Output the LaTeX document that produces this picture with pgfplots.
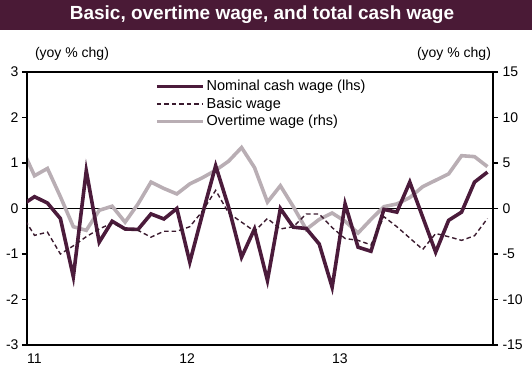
\documentclass[border=0pt]{standalone}
\usepackage{fontspec}
\setmainfont{Liberation Sans}
\usepackage{pgfplots}
\usepackage{pgfplotstable}
\pgfplotsset{compat=1.18}
\definecolor{nomc}{HTML}{4B1B3B}
\definecolor{basc}{HTML}{3A1A2E}
\definecolor{otc}{HTML}{B9AEB4}
\definecolor{barc}{HTML}{4A1A36}

\pgfplotstableread{
m nom basic ot
-1 0.07 -0.13 6.7
0 0.26 -0.59 3.6
1 0.12 -0.52 4.4
2 -0.22 -1.0 1.3
3 -1.5 -0.82 -2.0
4 0.83 -0.62 -2.4
5 -0.74 -0.45 -0.2
6 -0.28 -0.32 0.25
7 -0.45 -0.45 -1.5
8 -0.46 -0.48 0.5
9 -0.12 -0.63 2.9
10 -0.23 -0.5 2.2
11 0.0 -0.5 1.6
12 -1.18 -0.4 2.7
13 -0.1 -0.05 3.4
14 0.94 0.4 4.2
15 0.03 -0.1 5.2
16 -1.07 -0.3 6.7
17 -0.45 -0.5 4.5
18 -1.58 -0.22 0.7
19 0.0 -0.45 2.5
20 -0.41 -0.4 0.2
21 -0.44 -0.12 -2.3
22 -0.78 -0.12 -1.2
23 -1.73 -0.42 -0.5
24 0.1 -0.66 -1.4
25 -0.85 -0.7 -2.7
26 -0.94 -0.8 -1.2
27 -0.02 -0.18 0.2
28 -0.08 -0.4 0.5
29 0.58 -0.65 1.2
30 -0.19 -0.9 2.4
31 -0.96 -0.55 3.1
32 -0.26 -0.62 3.8
33 -0.08 -0.7 5.8
34 0.58 -0.6 5.7
35 0.8 -0.22 4.6
}\wagedata

\pgfplotsset{
  common/.style={
    at={(27pt,29pt)}, anchor=south west,
    scale only axis, width=466pt, height=273pt,
    xmin=-0.58, xmax=35.43,
    tick align=outside,
    major tick length=5pt,
    tick style={black, line width=1.2pt},
    every tick label/.append style={font=\fontsize{14}{16}\selectfont},
    /pgf/number format/assume math mode=true,
    axis line style={black, line width=1.6pt},
  }
}

\begin{document}
\begin{tikzpicture}
\useasboundingbox (0,0) rectangle (532pt,374pt);
\fill[barc] (0,343.5pt) rectangle (532pt,374pt);
\node[white, font=\fontsize{19}{22}\selectfont\bfseries] at (262pt,359pt) {Basic, overtime wage, and total cash wage};

% right-hand axis: overtime wage
\begin{axis}[common,
  ymin=-15, ymax=15,
  axis y line*=right, axis x line=none,
  ytick={-15,-10,...,15},
  yticklabel style={xshift=1pt},
]
\addplot[black, line width=1.1pt, forget plot] coordinates {(-1,0) (36,0)};
\addplot[otc, line width=3.6pt] table[x=m, y=ot]{\wagedata};
\end{axis}

% left-hand axis: nominal and basic wage
\begin{axis}[common,
  ymin=-3, ymax=3,
  ytick={-3,-2,...,3},
  ytick pos=left,
  xtick={0,11.8,23.6},
  xticklabels={11,12,13},
  xtick pos=bottom,
  x tick style={draw=none},
  legend style={at={(0.268,0.985)}, anchor=north west, draw=none, fill=none,
    font=\fontsize{14.5}{17}\selectfont, row sep=1.5pt,
    nodes={inner sep=2pt}},
  legend cell align=left,
  legend image code/.code={\draw[#1] (0pt,0pt) -- (46pt,0pt);},
]
\addplot[nomc, line width=3.6pt] table[x=m, y=nom]{\wagedata};
\addlegendentry{Nominal cash wage (lhs)}
\addplot[basc, line width=1.4pt, dash pattern=on 4.5pt off 3pt] table[x=m, y=basic]{\wagedata};
\addlegendentry{Basic wage}
\addlegendimage{otc, line width=3.6pt}
\addlegendentry{Overtime wage (rhs)}
\end{axis}

\node[font=\fontsize{14}{16}\selectfont] at (72pt,320pt) {(yoy \% chg)};
\node[font=\fontsize{14}{16}\selectfont] at (454pt,320pt) {(yoy \% chg)};
\end{tikzpicture}
\end{document}
